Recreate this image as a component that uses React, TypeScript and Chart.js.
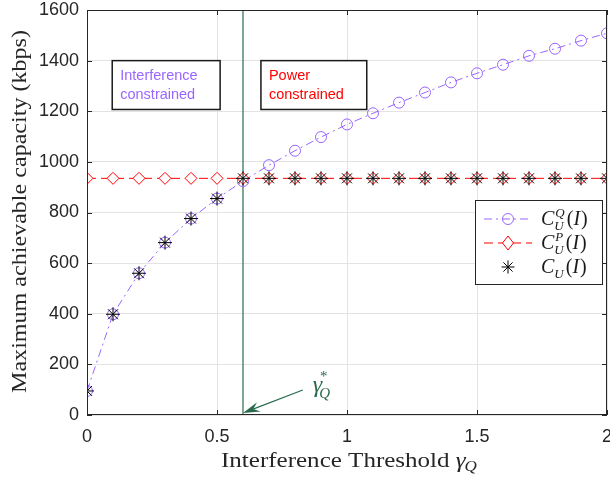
import React, { useEffect, useRef } from "react";
import { Chart, registerables } from "chart.js";

Chart.register(...registerables);

const xs = [0, 0.1, 0.2, 0.3, 0.4, 0.5, 0.6, 0.7, 0.8, 0.9, 1.0, 1.1, 1.2, 1.3, 1.4, 1.5, 1.6, 1.7, 1.8, 1.9, 2.0];
const interferenceCap = [95, 398, 560, 681, 776, 855, 924, 987, 1044, 1098, 1148, 1192, 1234, 1274, 1314, 1350, 1384, 1419, 1447, 1479, 1508];
const powerCap = [935, 935, 935, 935, 935, 935, 935, 935, 935, 935, 935, 935, 935, 935, 935, 935, 935, 935, 935, 935, 935];
const achievedCap = [95, 398, 560, 681, 776, 855, 935, 935, 935, 935, 935, 935, 935, 935, 935, 935, 935, 935, 935, 935, 935];
const xTicks = [0, 0.5, 1, 1.5, 2];
const yTicks = [0, 200, 400, 600, 800, 1000, 1200, 1400, 1600];
const gammaStar = 0.6;
const arrowTail = { x: 0.83, y: 99 };
const boxInterference = { x0: 0.097, x1: 0.512, y0: 1400, y1: 1207, lines: ["Interference", "constrained"] };
const boxPower = { x0: 0.669, x1: 1.076, y0: 1400, y1: 1207, lines: ["Power", "constrained"] };
const xTitle = "Interference Threshold ";
const yTitle = "Maximum achievable capacity (kbps)";

const PURPLE = "#9966ff";
const RED = "#ff0000";
const GREEN = "#2b6a4c";
const AXIS = "#262626";
const GRID = "#e3e3e3";
const SERIF = "'Liberation Serif'";

function drawMath(ctx: CanvasRenderingContext2D, x: number, y: number, sup: string | null, color: string) {
  ctx.fillStyle = color;
  ctx.textBaseline = "alphabetic";
  ctx.textAlign = "left";
  ctx.font = `italic 20px ${SERIF}`;
  ctx.fillText("C", x, y);
  const w = ctx.measureText("C").width;
  ctx.font = `italic 13px ${SERIF}`;
  ctx.fillText("U", x + w, y + 5);
  let sw = ctx.measureText("U").width;
  if (sup) {
    ctx.fillText(sup, x + w + 1, y - 8);
    sw = Math.max(sw, ctx.measureText(sup).width + 1);
  }
  let cx = x + w + sw + 2;
  ctx.font = `20px ${SERIF}`;
  ctx.fillText("(", cx, y);
  cx += ctx.measureText("(").width;
  ctx.font = `italic 20px ${SERIF}`;
  ctx.fillText("I", cx, y);
  cx += ctx.measureText("I").width + 1;
  ctx.font = `20px ${SERIF}`;
  ctx.fillText(")", cx, y);
}

const overlay = {
  id: "overlay",
  beforeDatasetsDraw(chart: any) {
    const { ctx, chartArea: a, scales } = chart;
    const gx = scales.x.getPixelForValue(gammaStar);
    ctx.save();
    ctx.strokeStyle = GREEN;
    ctx.lineWidth = 1.2;
    ctx.beginPath();
    ctx.moveTo(gx, a.top);
    ctx.lineTo(gx, a.bottom);
    ctx.stroke();
    ctx.restore();
  },
  afterDraw(chart: any) {
    const { ctx, chartArea: a, scales } = chart;
    const sx = scales.x;
    const sy = scales.y;
    ctx.save();
    // frame
    ctx.strokeStyle = AXIS;
    ctx.lineWidth = 1;
    ctx.strokeRect(a.left + 0.5, a.top + 0.5, a.right - a.left - 1, a.bottom - a.top - 1);
    ctx.beginPath();
    for (const t of xTicks) {
      const px = Math.round(sx.getPixelForValue(t)) + 0.5;
      ctx.moveTo(px, a.bottom);
      ctx.lineTo(px, a.bottom - 5);
      ctx.moveTo(px, a.top);
      ctx.lineTo(px, a.top + 5);
    }
    for (const t of yTicks) {
      const py = Math.round(sy.getPixelForValue(t)) + 0.5;
      ctx.moveTo(a.left, py);
      ctx.lineTo(a.left + 5, py);
      ctx.moveTo(a.right, py);
      ctx.lineTo(a.right - 5, py);
    }
    ctx.stroke();

    // text boxes
    const boxes = [
      { b: boxInterference, color: PURPLE },
      { b: boxPower, color: RED },
    ];
    for (const { b, color } of boxes) {
      const x0 = sx.getPixelForValue(b.x0);
      const x1 = sx.getPixelForValue(b.x1);
      const y0 = sy.getPixelForValue(b.y0);
      const y1 = sy.getPixelForValue(b.y1);
      ctx.fillStyle = "#ffffff";
      ctx.fillRect(x0, y0, x1 - x0, y1 - y0);
      ctx.strokeStyle = "#1a1a1a";
      ctx.lineWidth = 1.5;
      ctx.strokeRect(x0, y0, x1 - x0, y1 - y0);
      ctx.fillStyle = color;
      ctx.font = "14.5px 'Liberation Sans'";
      ctx.textAlign = "left";
      ctx.textBaseline = "alphabetic";
      ctx.fillText(b.lines[0], x0 + 8, y0 + 19);
      ctx.fillText(b.lines[1], x0 + 8, y0 + 38);
    }

    // arrow
    const tx = sx.getPixelForValue(arrowTail.x);
    const ty = sy.getPixelForValue(arrowTail.y);
    const hx = sx.getPixelForValue(gammaStar);
    const hy = sy.getPixelForValue(0) - 2;
    const ang = Math.atan2(hy - ty, hx - tx);
    ctx.strokeStyle = GREEN;
    ctx.fillStyle = GREEN;
    ctx.lineWidth = 1.2;
    ctx.beginPath();
    ctx.moveTo(tx, ty);
    ctx.lineTo(hx - 8 * Math.cos(ang), hy - 8 * Math.sin(ang));
    ctx.stroke();
    const L = 17, W = 5;
    ctx.beginPath();
    ctx.moveTo(hx, hy);
    ctx.lineTo(hx - L * Math.cos(ang) + W * Math.sin(ang), hy - L * Math.sin(ang) - W * Math.cos(ang));
    ctx.lineTo(hx - 11 * Math.cos(ang), hy - 11 * Math.sin(ang));
    ctx.lineTo(hx - L * Math.cos(ang) - W * Math.sin(ang), hy - L * Math.sin(ang) + W * Math.cos(ang));
    ctx.closePath();
    ctx.fill();
    ctx.font = `italic 24px ${SERIF}`;
    ctx.textAlign = "left";
    ctx.textBaseline = "alphabetic";
    ctx.fillText("γ", tx + 10, ty + 2);
    const gw = ctx.measureText("γ").width;
    ctx.font = `italic 15px ${SERIF}`;
    ctx.fillText("*", tx + 10 + gw - 3, ty - 9);
    ctx.fillText("Q", tx + 10 + gw - 3, ty + 8);

    // x title (stretched to match the reference width)
    ctx.fillStyle = AXIS;
    ctx.textBaseline = "alphabetic";
    ctx.textAlign = "left";
    ctx.font = `22px ${SERIF}`;
    const xtw = ctx.measureText(xTitle).width;
    ctx.font = `italic 22px ${SERIF}`;
    const gw2 = ctx.measureText("γ").width;
    ctx.font = `italic 15px ${SERIF}`;
    const qw = ctx.measureText("Q").width;
    const total = xtw + gw2 + qw;
    const kx = 257 / total;
    ctx.save();
    ctx.translate(221, 467);
    ctx.scale(kx, 1);
    ctx.font = `22px ${SERIF}`;
    ctx.fillText(xTitle, 0, 0);
    ctx.font = `italic 22px ${SERIF}`;
    ctx.fillText("γ", xtw, 0);
    ctx.font = `italic 15px ${SERIF}`;
    ctx.fillText("Q", xtw + gw2 - 1, 4);
    ctx.restore();

    // y title
    ctx.save();
    ctx.font = `22px ${SERIF}`;
    const ytw = ctx.measureText(yTitle).width;
    const ky = 363 / ytw;
    ctx.translate(26, 211.5);
    ctx.rotate(-Math.PI / 2);
    ctx.scale(ky, 1);
    ctx.textAlign = "center";
    ctx.fillText(yTitle, 0, 0);
    ctx.restore();

    // legend
    const lx0 = 475, ly0 = 200, lx1 = 603, ly1 = 285;
    ctx.fillStyle = "#ffffff";
    ctx.fillRect(lx0, ly0, lx1 - lx0, ly1 - ly0);
    ctx.strokeStyle = AXIS;
    ctx.lineWidth = 1;
    ctx.strokeRect(lx0 + 0.5, ly0 + 0.5, lx1 - lx0 - 1, ly1 - ly0 - 1);
    const rows = [
      { y: 219, color: PURPLE, dash: [8, 4, 2, 4], marker: "circle", sup: "Q", line: true },
      { y: 243, color: RED, dash: [9, 5], marker: "diamond", sup: "P", line: true },
      { y: 267, color: "#000000", dash: [], marker: "star", sup: null, line: false },
    ];
    for (const r of rows) {
      ctx.strokeStyle = r.color;
      ctx.lineWidth = 1;
      if (r.line) {
        ctx.setLineDash(r.dash);
        ctx.beginPath();
        ctx.moveTo(484, r.y);
        ctx.lineTo(532, r.y);
        ctx.stroke();
        ctx.setLineDash([]);
      }
      const mx = 508;
      if (r.marker === "circle") {
        ctx.beginPath();
        ctx.arc(mx, r.y, 5.5, 0, Math.PI * 2);
        ctx.stroke();
      } else if (r.marker === "diamond") {
        ctx.fillStyle = "#ffffff";
        ctx.beginPath();
        ctx.moveTo(mx, r.y - 7);
        ctx.lineTo(mx + 5.5, r.y);
        ctx.lineTo(mx, r.y + 7);
        ctx.lineTo(mx - 5.5, r.y);
        ctx.closePath();
        ctx.fill();
        ctx.stroke();
      } else {
        ctx.beginPath();
        const rr = 6.5;
        for (let k = 0; k < 4; k++) {
          const an = (k * Math.PI) / 4;
          ctx.moveTo(mx - rr * Math.cos(an), r.y - rr * Math.sin(an));
          ctx.lineTo(mx + rr * Math.cos(an), r.y + rr * Math.sin(an));
        }
        ctx.stroke();
      }
      drawMath(ctx, 541, r.y + 6, r.sup, "#1a1a1a");
    }
    ctx.restore();
  },
};

export default function App() {
  const ref = useRef<HTMLCanvasElement>(null);
  useEffect(() => {
    if (!ref.current) return;
    const chart = new Chart(ref.current, {
      type: "line",
      data: {
        datasets: [
          {
            label: "C_U(I)",
            data: xs.map((x, i) => ({ x, y: achievedCap[i] })),
            showLine: false,
            pointStyle: "star",
            pointRadius: 7,
            borderColor: "#000000",
            backgroundColor: "#000000",
            borderWidth: 1,
            order: 1,
          },
          {
            label: "C_U^P(I)",
            data: xs.map((x, i) => ({ x, y: powerCap[i] })),
            borderColor: RED,
            backgroundColor: "#ffffff",
            borderWidth: 1,
            borderDash: [9, 5],
            pointStyle: "rectRot",
            pointRadius: 6,
            pointBorderColor: RED,
            pointBackgroundColor: "#ffffff",
            order: 2,
          },
          {
            label: "C_U^Q(I)",
            data: xs.map((x, i) => ({ x, y: interferenceCap[i] })),
            borderColor: PURPLE,
            backgroundColor: "rgba(0,0,0,0)",
            borderWidth: 1,
            borderDash: [8, 4, 2, 4],
            pointStyle: "circle",
            pointRadius: 5.5,
            pointBorderColor: PURPLE,
            pointBackgroundColor: "rgba(0,0,0,0)",
            order: 3,
          },
        ],
      },
      options: {
        animation: false,
        responsive: false,
        maintainAspectRatio: false,
        layout: { padding: { left: 0, right: 0, top: 10, bottom: 0 } },
        plugins: { legend: { display: false }, tooltip: { enabled: false } },
        scales: {
          x: {
            type: "linear",
            min: 0,
            max: 2,
            afterBuildTicks: (s: any) => {
              s.ticks = xTicks.map((v) => ({ value: v }));
            },
            afterFit: (s: any) => {
              s.height = 62;
              s.paddingLeft = 0;
              s.paddingRight = 0;
            },
            grid: { color: GRID, drawTicks: false, lineWidth: 1 },
            border: { display: false },
            ticks: {
              padding: 11,
              color: AXIS,
              font: { family: "'Liberation Sans'", size: 18 },
              maxRotation: 0,
              callback: (v: any) => String(v),
            },
          },
          y: {
            type: "linear",
            min: 0,
            max: 1600,
            afterBuildTicks: (s: any) => {
              s.ticks = yTicks.map((v) => ({ value: v }));
            },
            afterFit: (s: any) => {
              s.width = 87;
              s.paddingTop = 0;
              s.paddingBottom = 0;
            },
            grid: { color: GRID, drawTicks: false, lineWidth: 1 },
            border: { display: false },
            ticks: {
              padding: 8,
              color: AXIS,
              font: { family: "'Liberation Sans'", size: 18 },
              callback: (v: any) => String(v),
            },
          },
        },
      },
      plugins: [overlay],
    });
    return () => chart.destroy();
  }, []);
  return (
    <div style={{ position: "fixed", left: 0, top: 0, width: 615, height: 477, background: "#fff", overflow: "hidden" }}>
      <canvas ref={ref} width={615} height={477} style={{ width: 615, height: 477 }} />
    </div>
  );
}
